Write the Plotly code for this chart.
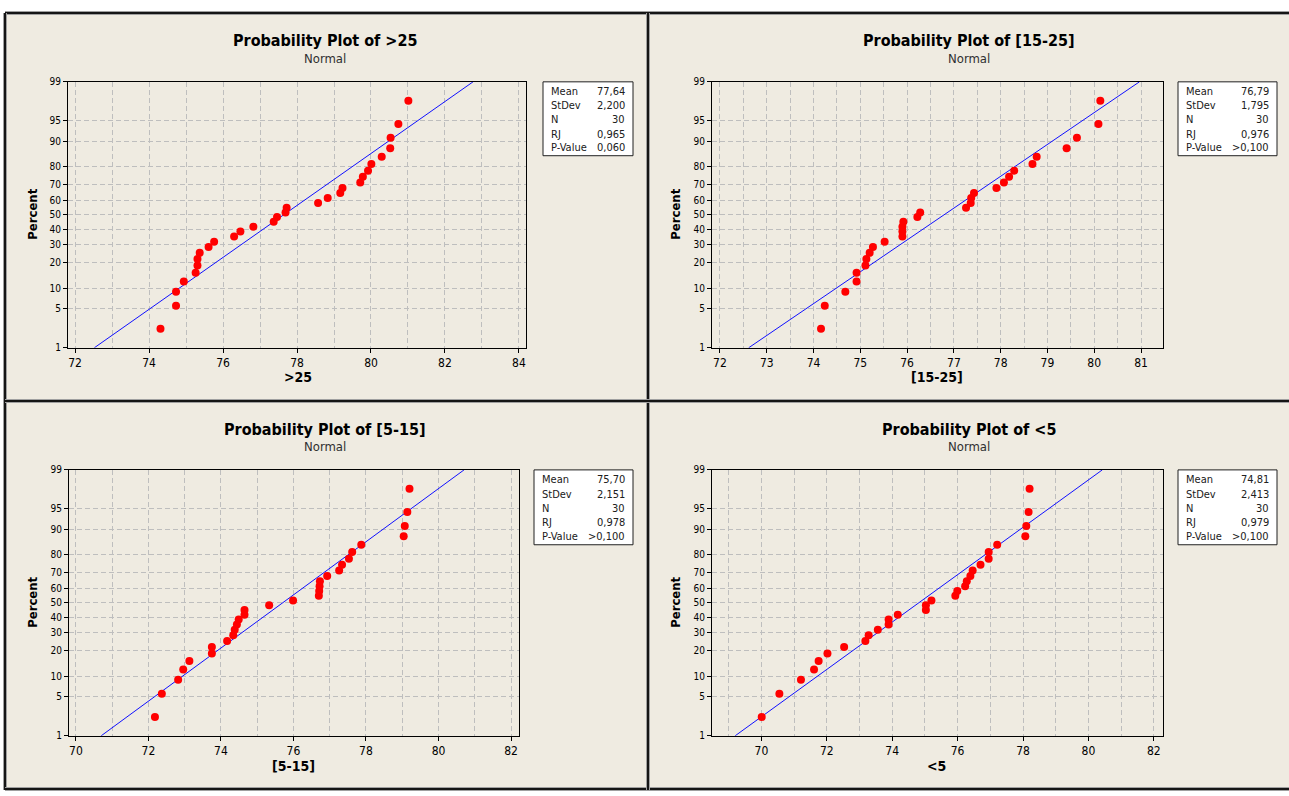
import plotly.graph_objects as go
from statistics import NormalDist

# ---------------- data ----------------
PANEL_NAMES = ["&gt;25", "[15-25]", "[5-15]", "&lt;5"]

GT25 = [74.31, 74.73, 74.73, 74.94, 75.26, 75.31, 75.31, 75.37, 75.61, 75.76,
        76.30, 76.47, 76.82, 77.37, 77.46, 77.69, 77.72, 78.57, 78.83, 79.17,
        79.23, 79.71, 79.78, 79.92, 80.01, 80.29, 80.52, 80.53, 80.74, 81.01]
R15_25 = [74.16, 74.24, 74.68, 74.92, 74.92, 75.11, 75.13, 75.20, 75.27, 75.52,
          75.90, 75.90, 75.90, 75.92, 76.22, 76.28, 77.26, 77.36, 77.37, 77.43,
          77.91, 78.07, 78.18, 78.29, 78.68, 78.77, 79.41, 79.63, 80.09, 80.13]
R5_15 = [72.18, 72.37, 72.82, 72.96, 73.13, 73.75, 73.75, 74.17, 74.34, 74.38,
         74.44, 74.49, 74.65, 74.65, 75.33, 75.99, 76.70, 76.71, 76.72, 76.73,
         76.93, 77.26, 77.34, 77.53, 77.62, 77.87, 79.04, 79.07, 79.14, 79.20]
LT5 = [70.01, 70.55, 71.21, 71.61, 71.75, 72.02, 72.53, 73.18, 73.28, 73.56,
       73.89, 73.89, 74.17, 75.03, 75.03, 75.20, 75.93, 75.99, 76.23, 76.28,
       76.39, 76.46, 76.70, 76.95, 76.95, 77.21, 78.07, 78.10, 78.17, 78.20]

# plotting positions (percent) of the 30 ordered observations
PERCENT = [2.3, 5.6, 8.9, 12.2, 15.5, 18.8, 22.0, 25.3, 28.6, 31.9,
           35.2, 38.5, 41.8, 45.1, 48.4, 51.6, 54.9, 58.2, 61.5, 64.8,
           68.1, 71.4, 74.7, 78.0, 81.3, 84.5, 87.8, 91.1, 94.4, 97.7]

MEAN = [77.64, 76.79, 75.70, 74.81]
STDEV = [2.200, 1.795, 2.151, 2.413]
N_OBS = [30, 30, 30, 30]
RJ = ["0,965", "0,976", "0,978", "0,979"]
PVALUE = ["0,060", "&gt;0,100", "&gt;0,100", "&gt;0,100"]

PCT_TICKS = [1, 5, 10, 20, 30, 40, 50, 60, 70, 80, 90, 95, 99]
LINE_PCT = [1, 99]

SERIES = [GT25, R15_25, R5_15, LT5]

# ---------------- layout helpers ----------------
W, H = 1289, 796
def fx(px):
    return px / W
def fy(py):
    return 1 - py / H

ND = NormalDist()
def zq(p):
    return ND.inv_cdf(p / 100.0)

FONT = "Tahoma, 'DejaVu Sans Condensed', 'Liberation Sans', Arial, sans-serif"
BG = "#EFEBE1"
GRID = "#BEBEBE"

PANELS = [
    dict(plot=(68, 526, 77, 347), xr=(71.81, 84.19), tick0=72, dtick=2, minor=1,
         box=(543, 633, 77, 152), lab_x=549, val_x=627, rows=[87, 101, 115, 130, 144],
         title=(325, 35), sub=(325, 53), ylab=(33, 212), xlab=(298, 377)),
    dict(plot=(712, 1163, 77, 347), xr=(71.83, 81.47), tick0=72, dtick=1, minor=0.5,
         box=(1178, 1277, 77, 152), lab_x=1184, val_x=1271, rows=[87, 101, 115, 130, 144],
         title=(969, 35), sub=(969, 53), ylab=(676, 212), xlab=(937, 377)),
    dict(plot=(69, 519, 471, 741), xr=(69.81, 82.22), tick0=70, dtick=2, minor=1,
         box=(534, 633, 471, 547), lab_x=540, val_x=627, rows=[481, 496, 510, 524, 539],
         title=(325, 430), sub=(325, 447), ylab=(33, 606), xlab=(293, 772)),
    dict(plot=(712, 1163, 471, 741), xr=(68.49, 82.28), tick0=70, dtick=2, minor=1,
         box=(1178, 1277, 471, 547), lab_x=1184, val_x=1271, rows=[481, 496, 510, 524, 539],
         title=(969, 430), sub=(969, 447), ylab=(676, 606), xlab=(936, 772)),
]

fig = go.Figure()
shapes = []
annotations = []

# background and separators
shapes.append(dict(type="rect", xref="paper", yref="paper", x0=fx(5), x1=fx(1289),
                   y0=fy(796), y1=fy(7), fillcolor=BG, line=dict(width=0), layer="below"))
for (x0, y0, x1, y1) in [(5, 7, 1289, 7), (5, 7, 5, 796), (5, 795, 1289, 795),
                         (648, 7, 648, 796), (5, 401, 1289, 401)]:
    shapes.append(dict(type="line", xref="paper", yref="paper", x0=fx(x0), x1=fx(x1),
                       y0=fy(y0), y1=fy(y1), line=dict(color="#A0A0A0", width=4), layer="below"))
    shapes.append(dict(type="line", xref="paper", yref="paper", x0=fx(x0), x1=fx(x1),
                       y0=fy(y0), y1=fy(y1), line=dict(color="#151515", width=2), layer="below"))

ytickvals = [zq(p) for p in PCT_TICKS]
yticktext = [str(p) for p in PCT_TICKS]
yrange = [zq(1), zq(99)]

for k, P in enumerate(PANELS):
    sfx = "" if k == 0 else str(k + 1)
    xa, ya = "x" + sfx, "y" + sfx
    data = SERIES[k]
    # fitted normal line from the reported mean and standard deviation
    lx = [MEAN[k] + STDEV[k] * zq(p) for p in LINE_PCT]
    ly = [zq(p) for p in LINE_PCT]
    fig.add_trace(go.Scatter(x=lx, y=ly, mode="lines", xaxis=xa, yaxis=ya,
                             line=dict(color="#1010FF", width=1), showlegend=False,
                             hoverinfo="skip"))
    fig.add_trace(go.Scatter(x=data, y=[zq(p) for p in PERCENT], mode="markers",
                             xaxis=xa, yaxis=ya, showlegend=False,
                             marker=dict(color="#FF0000", size=8, line=dict(width=0))))
    x0, x1, y0, y1 = P["plot"]
    axstyle = dict(showline=True, mirror=True, linecolor="black", linewidth=1,
                   zeroline=False, ticks="outside", ticklen=4, tickcolor="black",
                   showgrid=True, gridcolor=GRID, griddash="5px,3px", gridwidth=1)
    fig.layout["xaxis" + sfx] = dict(
        domain=[fx(x0), fx(x1)], range=list(P["xr"]), anchor=ya,
        tick0=P["tick0"], dtick=P["dtick"],
        tickfont=dict(family=FONT, size=12, color="black"),
        minor=dict(tick0=P["tick0"], dtick=P["minor"], showgrid=True, gridcolor=GRID,
                   griddash="5px,3px", gridwidth=1, ticks=""),
        **axstyle)
    fig.layout["yaxis" + sfx] = dict(
        domain=[fy(y1), fy(y0)], range=yrange, anchor=xa,
        tickvals=ytickvals, ticktext=yticktext,
        tickfont=dict(family=FONT, size=10, color="black"),
        **axstyle)
    # stats box
    bx0, bx1, by0, by1 = P["box"]
    shapes.append(dict(type="rect", xref="paper", yref="paper", x0=fx(bx0), x1=fx(bx1),
                       y0=fy(by1), y1=fy(by0), fillcolor="white",
                       line=dict(color="#202020", width=1)))
    labels = ["Mean", "StDev", "N", "RJ", "P-Value"]
    values = [f"{MEAN[k]:.2f}".replace(".", ","), f"{STDEV[k]:.3f}".replace(".", ","),
              str(N_OBS[k]), RJ[k], PVALUE[k]]
    for lab, val, ry in zip(labels, values, P["rows"]):
        annotations.append(dict(x=fx(P["lab_x"]), y=fy(ry), xref="paper", yref="paper",
                                text=lab, showarrow=False, xanchor="left", yanchor="middle",
                                font=dict(family=FONT, size=11, color="#202020")))
        annotations.append(dict(x=fx(P["val_x"]), y=fy(ry), xref="paper", yref="paper",
                                text=val, showarrow=False, xanchor="right", yanchor="middle",
                                font=dict(family=FONT, size=11, color="#202020")))
    # titles
    annotations.append(dict(x=fx(P["title"][0]), y=fy(P["title"][1]), xref="paper", yref="paper",
                            text="<b>Probability Plot of " + PANEL_NAMES[k] + "</b>",
                            showarrow=False, xanchor="center", yanchor="middle",
                            font=dict(family=FONT, size=16, color="black")))
    annotations.append(dict(x=fx(P["sub"][0]), y=fy(P["sub"][1]), xref="paper", yref="paper",
                            text="Normal", showarrow=False, xanchor="center", yanchor="middle",
                            font=dict(family=FONT, size=13, color="#303030")))
    annotations.append(dict(x=fx(P["ylab"][0]), y=fy(P["ylab"][1]), xref="paper", yref="paper",
                            text="<b>Percent</b>", textangle=-90, showarrow=False,
                            xanchor="center", yanchor="middle",
                            font=dict(family=FONT, size=13, color="black")))
    annotations.append(dict(x=fx(P["xlab"][0]), y=fy(P["xlab"][1]), xref="paper", yref="paper",
                            text="<b>" + PANEL_NAMES[k] + "</b>", showarrow=False,
                            xanchor="center", yanchor="middle",
                            font=dict(family=FONT, size=14, color="black")))

fig.update_layout(width=W, height=H, margin=dict(l=0, r=0, t=0, b=0, pad=0),
                  paper_bgcolor="white", plot_bgcolor="white",
                  shapes=shapes, annotations=annotations, showlegend=False,
                  font=dict(family=FONT))

fig.write_html("out.html", config={"displayModeBar": False},
               post_script=("document.documentElement.style.margin='0';"
                            "document.body.style.margin='0';"
                            "document.documentElement.style.overflow='hidden';"
                            "document.body.style.overflow='hidden';"))
